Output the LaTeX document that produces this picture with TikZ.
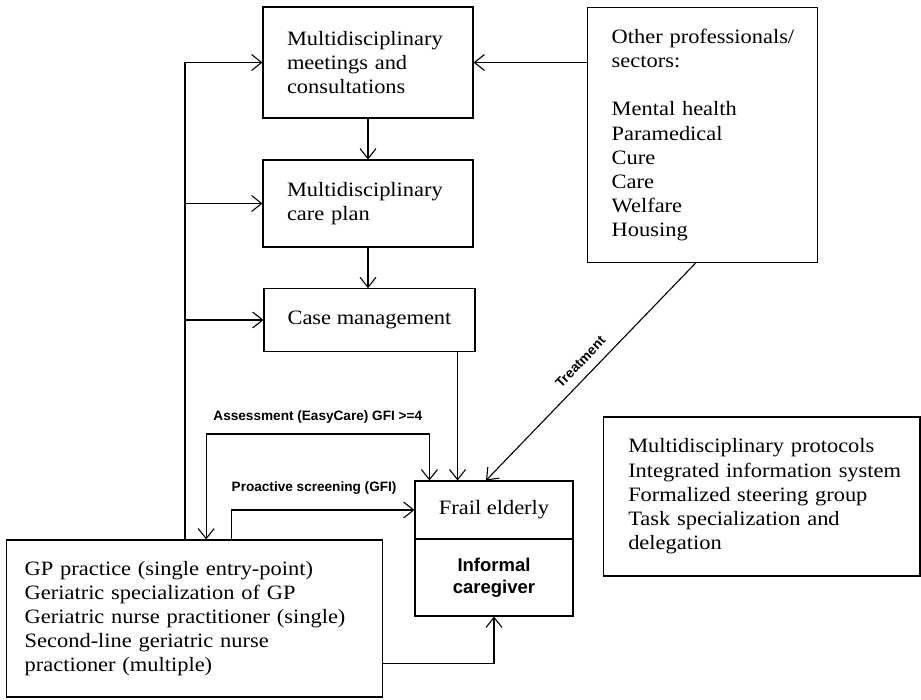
\documentclass[tikz,border=0pt]{standalone}
\usepackage{fontspec}
\usetikzlibrary{arrows.meta}
\newfontfamily\boxfont[FakeStretch=1.1]{Liberation Serif}
\newfontfamily\lblfont{Liberation Sans}

\tikzset{
  box/.style={draw=black, line width=1.1pt, rectangle, inner sep=0pt,
    font=\boxfont\fontsize{20.4}{24.2}\selectfont},
  tip/.tip={Straight Barb[length=10pt,width=16pt]},
  arr/.style={line width=1.1pt, -tip},
  biarr/.style={line width=1.1pt, tip-tip},
  lbl/.style={inner sep=0pt, font=\lblfont\bfseries\fontsize{13.6}{16}\selectfont},
}

\begin{document}
\begin{tikzpicture}[x=1pt,y=-1pt]
\useasboundingbox (0,0) rectangle (921,699);

% boxes
\node[box, minimum width=210pt, minimum height=111pt, text width=162pt, align=left]
  (meet) at (368,62.5) {Multidisciplinary\\meetings and\\consultations};
\node[box, minimum width=210pt, minimum height=87pt, text width=162pt, align=left]
  (plan) at (368,203.5) {Multidisciplinary\\care plan};
\node[box, minimum width=211pt, minimum height=62.6pt, align=center]
  (case) at (369.5,320) {Case management};
\node[box, minimum width=230.2pt, minimum height=255pt, text width=181.6pt, align=left]
  (other) at (702.5,135.1) {\mbox{Other professionals/}\\sectors:\\[24.2pt]Mental health\\Paramedical\\Cure\\Care\\Welfare\\Housing};
\node[box, minimum width=158pt, minimum height=58pt, align=center]
  (frail) at (494,510) {Frail elderly};
\node[box, minimum width=158pt, minimum height=77pt, align=center,
  font=\lblfont\bfseries\fontsize{18.5}{22}\selectfont]
  (carer) at (494,577.5) {Informal\\caregiver};
\node[box, minimum width=376pt, minimum height=157pt, text width=340pt, align=left]
  (gp) at (194.7,618.5) {GP practice (single entry-point)\\Geriatric specialization of GP\\Geriatric nurse practitioner (single)\\Second-line geriatric nurse\\practioner (multiple)};
\node[box, minimum width=316.5pt, minimum height=159pt, text width=267pt, align=left]
  (extra) at (761.75,496.5) {Multidisciplinary protocols\\\mbox{Integrated information system}\\Formalized steering group\\Task specialization and\\delegation};

% left feedback bus from the GP practice
\coordinate (bus) at (185,0);
\draw[arr] (gp.north -| bus) |- (meet.west);
\draw[arr] (gp.north -| bus) |- (plan.west);
\draw[arr] (gp.north -| bus) |- (case.west);

% main chain
\draw[arr] (meet) -- (plan);
\draw[arr] (plan.south) -- (plan.south |- case.north);
\draw[arr] ([xshift=-18pt]case.south east) -- ([xshift=-18pt]case.south east |- frail.north);

% other professionals
\draw[arr] (other.west |- meet.east) -- (meet.east);
\draw[arr] ([xshift=-7pt]other.south) -- node[lbl, sloped, above=9pt] {Treatment} ([xshift=-8pt]frail.north);

% assessment and screening loops
\coordinate (assessY) at (0,434);
\draw[biarr] ([xshift=200pt]gp.north west) -- ([xshift=200pt]gp.north west |- assessY)
  -| node[lbl, pos=0.25, above=10.5pt] {Assessment (EasyCare) GFI >=4} ([xshift=15pt]frail.north west);
\draw[arr] ([xshift=225pt]gp.north west) |- node[lbl, pos=0.5, anchor=south west, yshift=15pt] {Proactive screening (GFI)} (frail.west);

% GP practice to informal caregiver
\draw[arr] ([yshift=-45pt]gp.east) -| (carer.south);
\end{tikzpicture}
\end{document}
